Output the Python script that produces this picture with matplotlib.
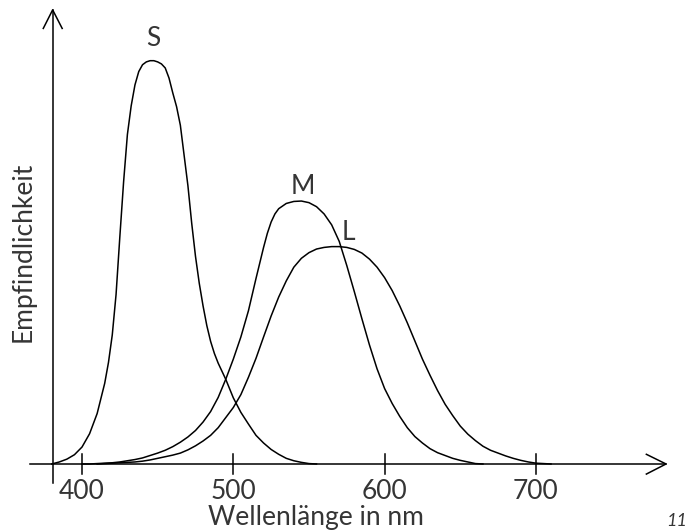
import matplotlib
matplotlib.use('Agg')
import matplotlib.pyplot as plt

wl_s = [380, 385, 390, 395, 400, 405, 410, 415, 417.5, 420, 422.5, 425, 427.5,
        430, 432.5, 435, 437.5, 440, 442.5, 445, 447.5, 450, 452.5, 455, 457.5,
        460, 462.5, 465, 467.5, 470, 472.5, 475, 477.5, 480, 482.5, 485, 487.5,
        490, 492.5, 495, 500, 505, 510, 515, 520, 525, 530, 535, 540, 545, 550,
        555]
s_werte = [0, 0.005, 0.012, 0.023, 0.042, 0.075, 0.125, 0.2, 0.252, 0.32, 0.42,
           0.563, 0.70, 0.817, 0.888, 0.94, 0.973, 0.99, 0.997, 1.0, 1.0, 0.997,
           0.992, 0.982, 0.957, 0.92, 0.886, 0.84, 0.765, 0.69, 0.597, 0.515,
           0.448, 0.392, 0.343, 0.304, 0.274, 0.25, 0.23, 0.21, 0.164, 0.128,
           0.099, 0.071, 0.052, 0.036, 0.024, 0.014, 0.008, 0.004, 0.001, 0]

wl_m = [400, 405, 410, 415, 420, 425, 430, 435, 440, 445, 450, 455, 460, 465,
        470, 475, 480, 485, 490, 495, 500, 505, 510, 515, 520, 522.5, 525,
        527.5, 530, 535, 540, 545, 550, 555, 560, 565, 570, 575, 580, 585, 590,
        595, 600, 605, 610, 615, 620, 625, 630, 635, 640, 645, 650, 655, 660,
        665]
m_werte = [0, 0, 0.001, 0.002, 0.003, 0.005, 0.008, 0.011, 0.015, 0.021, 0.027,
           0.034, 0.043, 0.054, 0.067, 0.083, 0.104, 0.13, 0.165, 0.21, 0.26,
           0.315, 0.38, 0.46, 0.537, 0.572, 0.6, 0.62, 0.633, 0.646, 0.651,
           0.652, 0.648, 0.638, 0.62, 0.593, 0.552, 0.492, 0.427, 0.36, 0.295,
           0.236, 0.187, 0.15, 0.118, 0.09, 0.068, 0.052, 0.038, 0.028, 0.021,
           0.014, 0.009, 0.005, 0.001, 0]

wl_l = [410, 415, 420, 425, 430, 435, 440, 445, 450, 455, 460, 465, 470, 475,
        480, 485, 490, 495, 500, 505, 510, 515, 520, 525, 530, 535, 540, 545,
        550, 555, 560, 565, 570, 575, 580, 585, 590, 595, 600, 605, 610, 615,
        620, 625, 630, 635, 640, 645, 650, 655, 660, 665, 670, 675, 680, 685,
        690, 695, 700, 705, 710]
l_werte = [0, 0.001, 0.002, 0.003, 0.004, 0.005, 0.007, 0.01, 0.014, 0.018,
           0.022, 0.027, 0.035, 0.045, 0.057, 0.071, 0.09, 0.115, 0.14, 0.172,
           0.215, 0.262, 0.315, 0.367, 0.414, 0.454, 0.488, 0.51, 0.524, 0.533,
           0.537, 0.539, 0.539, 0.537, 0.532, 0.523, 0.508, 0.488, 0.462, 0.43,
           0.392, 0.35, 0.305, 0.26, 0.22, 0.182, 0.148, 0.12, 0.094, 0.074,
           0.058, 0.044, 0.034, 0.027, 0.02, 0.014, 0.009, 0.005, 0.002, 0.001,
           0]

ticks = [400, 500, 600, 700]

schrift = ['Lato Light', 'Lato', 'DejaVu Sans']
textfarbe = '#353535'

fig = plt.figure(figsize=(6.91, 5.30), dpi=100)
ax = fig.add_axes([0, 0, 1, 1])
ax.set_xlim(345.8, 802.5)
ax.set_ylim(-0.1637, 1.1505)
ax.axis('off')

# Kurven
for wl, werte in [(wl_s, s_werte), (wl_m, m_werte), (wl_l, l_werte)]:
    ax.plot(wl, werte, color='black', lw=1.1, solid_joinstyle='round')

# Achsen mit offenen Pfeilspitzen
ax.plot([365.6, 786], [0, 0], color='black', lw=1.1)
ax.plot([773, 786, 773], [0.024, 0, -0.025], color='black', lw=1.1)
ax.plot([380.6, 380.6], [-0.046, 1.126], color='black', lw=1.1)
ax.plot([374.4, 380.6, 386.9], [1.080, 1.126, 1.080], color='black', lw=1.1)

# Teilstriche
for t in ticks:
    ax.plot([t, t], [0.025, -0.025], color='black', lw=1.1)
    ax.text(t, -0.0875, str(t), ha='center', va='baseline', fontsize=19,
            family=schrift, color=textfarbe)

# Beschriftungen
ax.text(446.9, 1.054, 'S', ha='center', va='center', fontsize=19,
        family=schrift, color=textfarbe)
ax.text(546, 0.689, 'M', ha='center', va='center', fontsize=19,
        family=schrift, color=textfarbe)
ax.text(575.8, 0.575, 'L', ha='center', va='center', fontsize=19,
        family=schrift, color=textfarbe)

ax.text(554.7, -0.151, 'Wellenlänge in nm', ha='center', va='baseline',
        fontsize=19, family=schrift, color=textfarbe)
ax.text(361, 0.526, 'Empfindlichkeit', ha='center', va='center', rotation=90,
        fontsize=19, family=schrift, color=textfarbe)

ax.text(800, -0.155, '11', ha='right', va='baseline', fontsize=13,
        family=schrift, style='italic', color=textfarbe)

fig.savefig('out.png', dpi=100)
